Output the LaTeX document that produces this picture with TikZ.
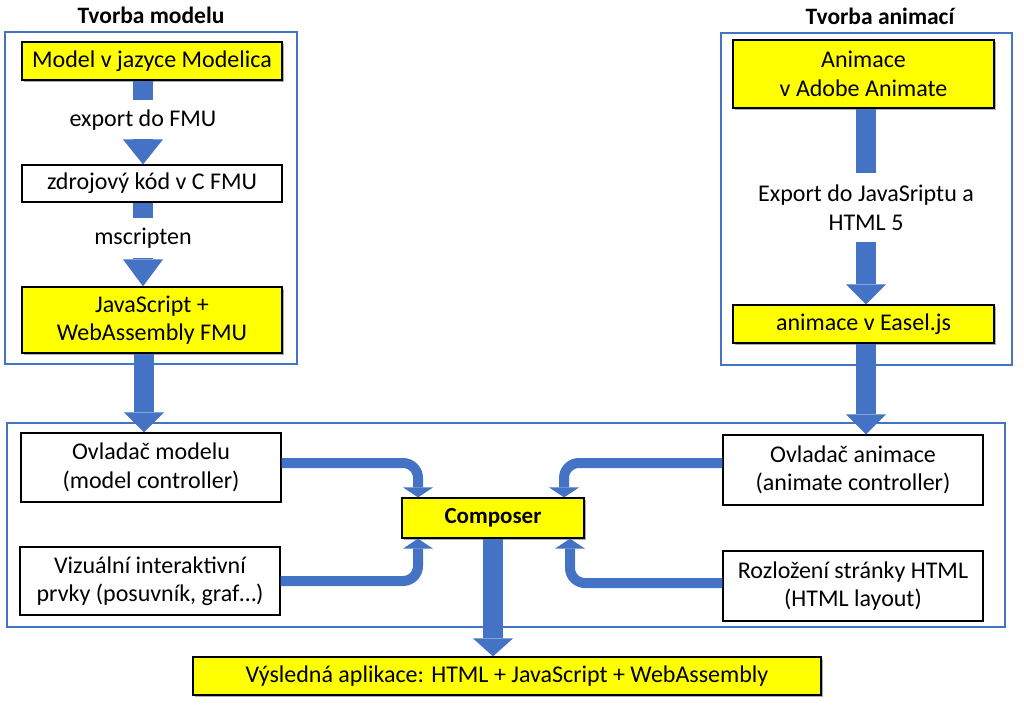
\documentclass[tikz,border=0pt]{standalone}
\usepackage{fontspec}
\setmainfont{Carlito}
\usetikzlibrary{arrows.meta,shadows}
\definecolor{arrowblue}{HTML}{4472C4}
\definecolor{frameblue}{HTML}{4472C4}
\definecolor{boxyellow}{HTML}{FFFF00}
\tikzset{
  txt/.style={font=\fontsize{24}{28.5}\selectfont},
  box/.style={draw=black, line width=1.2pt, inner sep=0pt, align=center, txt, minimum width=260pt},
  ybox/.style={box, fill=boxyellow, drop shadow={shadow xshift=2pt, shadow yshift=-2pt, opacity=0.45, fill=black!70}},
  wbox/.style={box, fill=white},
  frame/.style={draw=frameblue, line width=1.3pt, inner sep=0pt},
  lbl/.style={fill=white, inner sep=0pt, align=center, txt},
  title/.style={font=\fontsize{23.5}{28}\selectfont\bfseries},
  shaft/.style={arrowblue, line width=20pt},
  block/.style={arrowblue, line width=20pt, -{Triangle[width=40pt,length=#1,line width=0pt]}},
  block/.default=20pt,
  elbow/.style={arrowblue, line width=10pt, rounded corners=15pt, -{Triangle[width=30pt,length=10pt,line width=0pt]}}
}
\begin{document}
\begin{tikzpicture}[x=1pt,y=-1pt]
\useasboundingbox (0,0) rectangle (1024,705);
% frames
\node[frame, minimum width=292pt, minimum height=332pt] (fL) at (151,198) {};
\node[frame, minimum width=291pt, minimum height=332pt] (fR) at (866.5,199) {};
\node[frame, minimum width=998pt, minimum height=204pt] (fB) at (506,525) {};
% titles
\node[title] (tL) at (151,15) {Tvorba modelu};
\node[title] (tR) at (880,16) {Tvorba animací};
% left stack
\node[ybox, minimum height=38pt] (m1) at (152,61) {Model v jazyce Modelica};
\node[lbl, minimum height=40pt] (l1) at (143,120) {export do FMU};
\node[wbox, minimum height=37pt] (m2) at (152,183.5) {zdrojový kód v C FMU};
\node[lbl, minimum height=40pt] (l2) at (143,238) {mscripten};
\node[ybox, minimum height=66pt] (m3) at (152,320) {JavaScript +\\WebAssembly FMU};
% right stack
\node[ybox, minimum width=261pt, minimum height=68pt] (a1) at (863.5,74) {Animace\\v Adobe Animate};
\node[lbl, minimum height=69pt] (l3) at (866,207.5) {Export do JavaSriptu a\\HTML 5};
\node[ybox, minimum width=261pt, minimum height=38pt] (a2) at (863.5,324) {animace v Easel.js};
% bottom
\node[wbox, minimum height=69pt] (c1) at (151,467.5) {Ovladač modelu\\(model controller)};
\node[wbox, minimum height=68pt] (c2) at (150,581) {Vizuální interaktivní\\prvky (posuvník, graf…)};
\node[wbox, minimum height=70pt] (c3) at (853,470) {Ovladač animace\\(animate controller)};
\node[wbox, minimum height=70pt] (c4) at (853,586) {Rozložení stránky HTML\\(HTML layout)};
\node[ybox, minimum width=182pt, minimum height=40pt, font=\fontsize{23}{28}\selectfont\bfseries] (comp) at (493,518) {Composer};
\node[ybox, minimum width=628pt, minimum height=38pt] (res) at (507,676) {Výsledná aplikace: HTML + JavaScript + WebAssembly};
% block arrows, left stack
\draw[shaft] ([xshift=-9pt]m1.south) -- (l1.north);
\draw[block=25pt] (l1.south) -- ([xshift=-9pt]m2.north);
\draw[shaft] ([xshift=-9pt]m2.south) -- (l2.north);
\draw[block=27pt] (l2.south) -- ([xshift=-9pt]m3.north);
\draw[block] ([xshift=-8pt]m3.south) -- ([xshift=-7pt]c1.north);
% right stack
\draw[shaft] ([xshift=2.5pt]a1.south) -- (l3.north);
\draw[block] (l3.south) -- ([xshift=2.5pt]a2.north);
\draw[block] ([xshift=2.5pt]a2.south) -- ([xshift=13pt]c3.north);
% into composer
\draw[elbow] ([yshift=4.5pt]c1.east) -| ([xshift=-75pt]comp.north);
\draw[elbow] (c2.east) -| ([xshift=-75pt]comp.south);
\draw[elbow] ([yshift=7pt]c3.west) -| ([xshift=71pt]comp.north);
\draw[elbow] ([yshift=3pt]c4.west) -| ([xshift=77pt]comp.south);
% composer to result
\draw[block=18pt] (comp.south) -- ([xshift=-14pt]res.north);
\end{tikzpicture}
\end{document}
